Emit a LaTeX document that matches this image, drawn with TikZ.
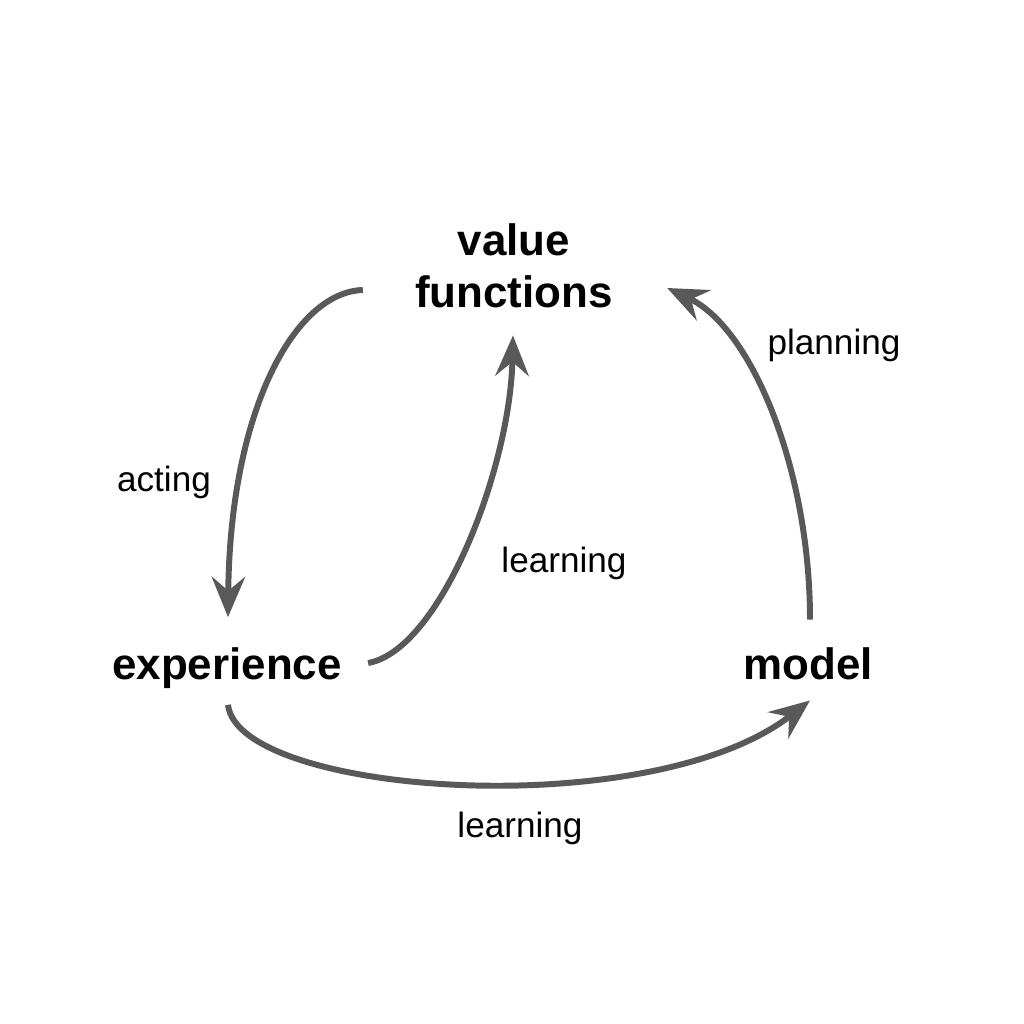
\documentclass[tikz,border=0pt]{standalone}
\usepackage{fontspec}
\setmainfont{Liberation Sans}
\usetikzlibrary{arrows.meta}
\tikzstyle{estado}=[font=\fontsize{25}{29.5}\selectfont\bfseries, align=center,
  inner sep=0pt]
\tikzstyle{texto} = [font=\fontsize{20}{24}\selectfont, inner sep=0pt]
\tikzstyle{line} = [draw, line width=3.4pt, color=black!65,
  -{Stealth[length=23pt,width=19pt,inset=8pt]}]

\begin{document}
\begin{tikzpicture}[x=0.02cm,y=-0.02cm]
  \useasboundingbox (0,0) rectangle (1024,1024);

  % Draw diagram elements
  \path (514,266) node (p1) [estado] {value\\functions};
  \path (227,668) node (p2) [estado] {experience};
  \path (808,664) node (p3) [estado] {model};

  \path (164,482) node (t1) [texto] {acting};
  \path (564,563) node (t2) [texto] {learning};
  \path (834,345) node (t3) [texto] {planning};
  \path (520,828) node (t4) [texto] {learning};

  % Draw arrows between elements
  \path [line] ([shift={(-52,24)}]p1.west) .. controls (295,292) and (230,410)
    .. ([shift={(1,-30)}]p2.north);
  \path [line] ([shift={(26,-5)}]p2.east) .. controls (440,650) and (510,470)
    .. ([shift={(-1,27)}]p1.south);
  \path [line] ([shift={(1,16)}]p2.south) .. controls (238,795) and (650,825)
    .. ([shift={(2,20)}]p3.south);
  \path [line] ([shift={(2,-28)}]p3.north) .. controls (810,470) and (752,328)
    .. ([shift={(54,22)}]p1.east);
\end{tikzpicture}
\end{document}
